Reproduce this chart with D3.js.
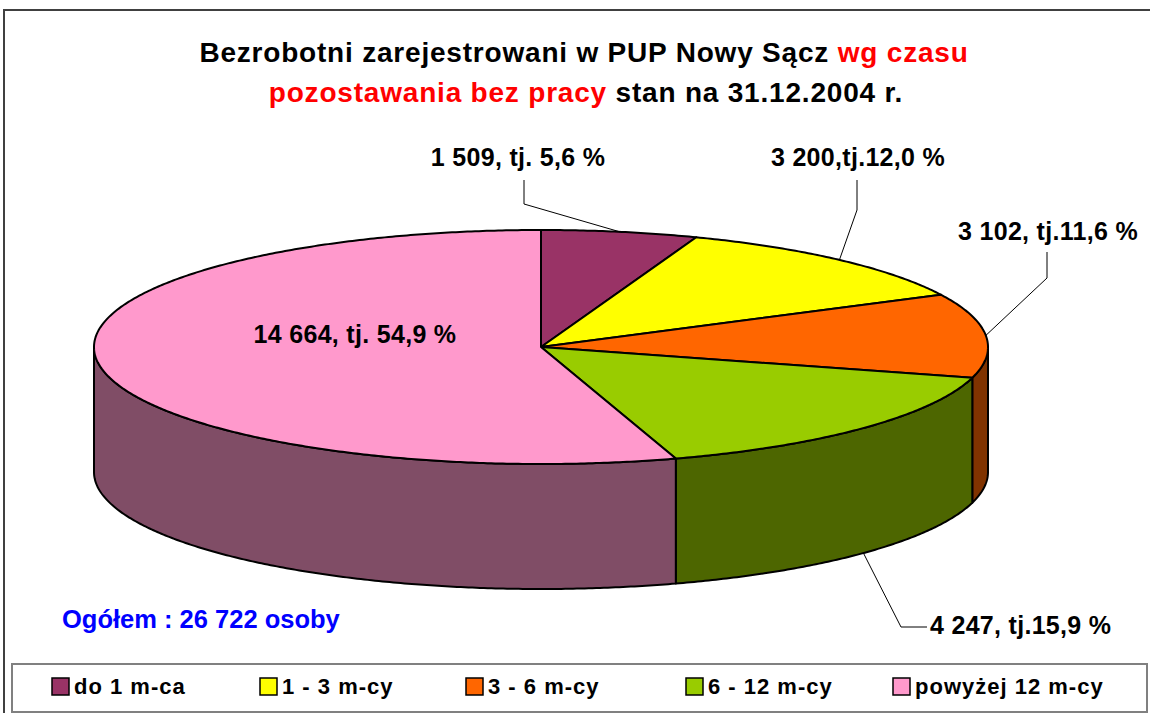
<!DOCTYPE html>
<html>
<head>
<meta charset="utf-8">
<title>Bezrobotni wg czasu pozostawania bez pracy</title>
<script src="https://d3js.org/d3.v7.min.js"></script>
<style>
  body { margin:0; background:#fff; }
  svg text { font-family: Arial, "Liberation Sans", sans-serif; font-weight: bold; }
</style>
</head>
<body>
<script>
// data
var categories = ["do 1 m-ca", "1 - 3 m-cy", "3 - 6 m-cy", "6 - 12 m-cy", "powyżej 12 m-cy"];
var values = [1509, 3200, 3102, 4247, 14664];
var sliceLabels = ["1 509, tj. 5,6 %", "3 200,tj.12,0 %", "3 102, tj.11,6 %", "4 247, tj.15,9 %", "14 664, tj. 54,9 %"];
var totalLabel = "Ogółem : 26 722 osoby";

var topColors  = ["#993366", "#ffff00", "#ff6600", "#99cc00", "#ff99cc"];
var sideColors = ["#4d1933", "#808000", "#803300", "#4d6600", "#804d66"];

var W = 1150, H = 713;
var cx = 541, cy = 347, rx = 447, ry = 117, depth = 125;

// label placement: text position, elbow of the leader line, where the leader hits the pie
var labelLayout = [
  {x: 518, y: 166, anchor: "middle", elbow: [[524, 180], [524, 204]], on: "top"},
  {x: 858, y: 166, anchor: "middle", elbow: [[857, 180], [857, 210]], on: "top"},
  {x: 1048, y: 240, anchor: "middle", elbow: [[1047, 252], [1047, 278]], on: "top"},
  {x: 930, y: 634, anchor: "start", elbow: [[927, 627], [901, 627]], on: "bottom"},
  {x: 355, y: 343, anchor: "middle", elbow: null}
];

var svg = d3.select("body").append("svg")
  .attr("width", W).attr("height", H);

// outer frame
svg.append("path")
  .attr("d", "M4," + H + "V10H" + W)
  .attr("fill", "none").attr("stroke", "#404040").attr("stroke-width", 2);

// title
var title = svg.append("g").attr("font-size", 28).attr("letter-spacing", 0.8).attr("text-anchor", "middle");
var t1 = title.append("text").attr("x", 584).attr("y", 62);
t1.append("tspan").attr("fill", "#000").text("Bezrobotni zarejestrowani w PUP Nowy Sącz ");
t1.append("tspan").attr("fill", "#ff0000").text("wg czasu");
var t2 = title.append("text").attr("x", 586).attr("y", 102);
t2.append("tspan").attr("fill", "#ff0000").text("pozostawania bez pracy");
t2.append("tspan").attr("fill", "#000").text(" stan na 31.12.2004 r.");

// pie angles, clockwise from 12 o'clock
var arcs = d3.pie().sort(null).value(function(d){ return d; })(values);

function pt(a, dy) {
  return [cx + rx * Math.sin(a), cy - ry * Math.cos(a) + (dy || 0)];
}
function arcPoints(a0, a1, dy) {
  var n = Math.max(2, Math.ceil(Math.abs(a1 - a0) / (Math.PI / 360)));
  return d3.range(n + 1).map(function(i){ return pt(a0 + (a1 - a0) * i / n, dy); });
}
var line = d3.line();

// side walls (only the front half is visible)
var sides = svg.append("g");
arcs.forEach(function(d, i){
  var s = Math.max(d.startAngle, Math.PI / 2), e = Math.min(d.endAngle, 3 * Math.PI / 2);
  if (e <= s) return;
  var pts = arcPoints(s, e, 0).concat(arcPoints(e, s, depth));
  sides.append("path")
    .attr("d", line(pts) + "Z")
    .attr("fill", sideColors[i])
    .attr("stroke", "#000").attr("stroke-width", 2).attr("stroke-linejoin", "round");
});

// top faces
var tops = svg.append("g");
arcs.forEach(function(d, i){
  var pts = [[cx, cy]].concat(arcPoints(d.startAngle, d.endAngle, 0));
  tops.append("path")
    .attr("d", line(pts) + "Z")
    .attr("fill", topColors[i])
    .attr("stroke", "#000").attr("stroke-width", 2).attr("stroke-linejoin", "round");
});

// labels and leader lines
var lab = svg.append("g").attr("font-size", 25).attr("letter-spacing", 0.3).attr("fill", "#000");
arcs.forEach(function(d, i){
  var L = labelLayout[i];
  if (L.elbow) {
    var mid = (d.startAngle + d.endAngle) / 2;
    var end = pt(mid, L.on === "bottom" ? depth : 0);
    lab.append("path")
      .attr("d", line(L.elbow.concat([end])))
      .attr("fill", "none").attr("stroke", "#000").attr("stroke-width", 1);
  }
  lab.append("text")
    .attr("x", L.x).attr("y", L.y)
    .attr("text-anchor", L.anchor)
    .text(sliceLabels[i]);
});

// total
svg.append("text")
  .attr("x", 62).attr("y", 628)
  .attr("font-size", 25.5).attr("fill", "#0000ff")
  .text(totalLabel);

// legend
var legend = svg.append("g");
legend.append("rect")
  .attr("x", 12).attr("y", 664).attr("width", 1135).attr("height", 48)
  .attr("fill", "#fff").attr("stroke", "#808080").attr("stroke-width", 2);
var legendX = [52, 260, 466, 686, 893];
categories.forEach(function(c, i){
  legend.append("rect")
    .attr("x", legendX[i]).attr("y", 678).attr("width", 17).attr("height", 17)
    .attr("fill", topColors[i]).attr("stroke", "#000").attr("stroke-width", 1.5);
  legend.append("text")
    .attr("x", legendX[i] + 22).attr("y", 694)
    .attr("font-size", 22).attr("letter-spacing", 1)
    .text(c);
});
</script>
</body>
</html>
